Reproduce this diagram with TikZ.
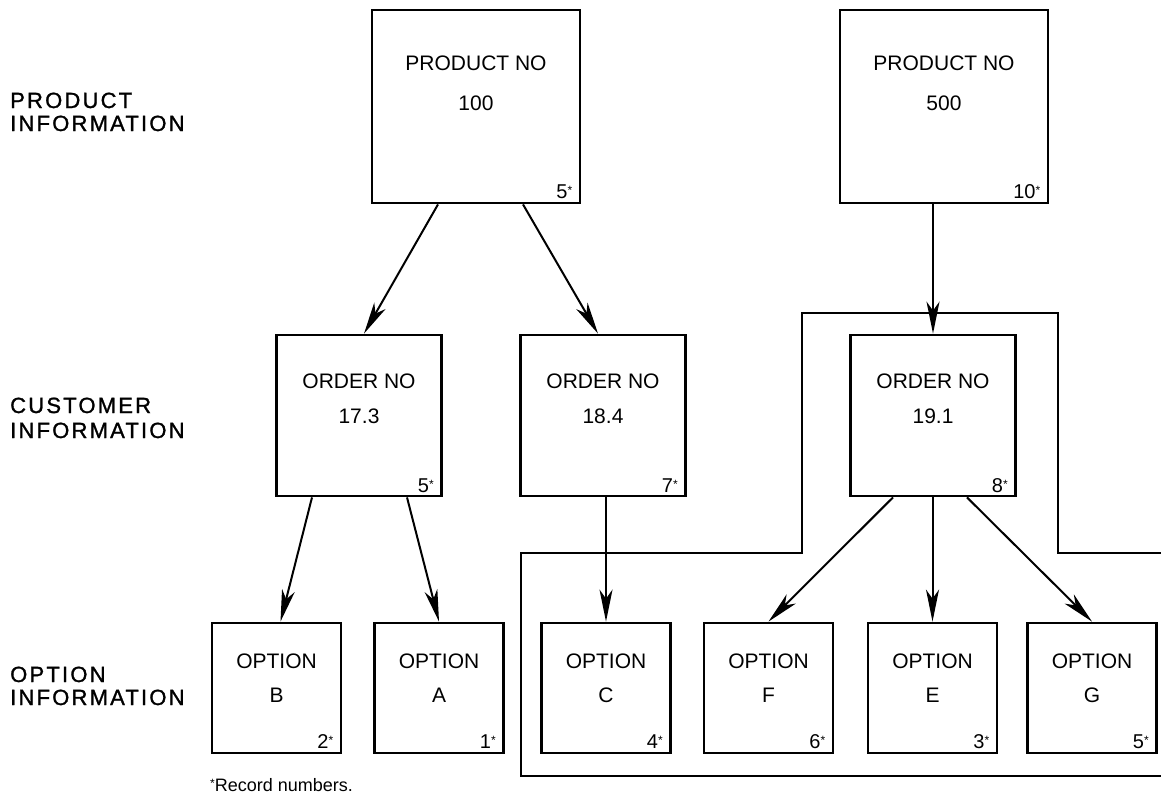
\documentclass[tikz,border=0pt]{standalone}
\usepackage{fontspec}
\setmainfont{Liberation Sans}
\newfontfamily\labfont[LetterSpace=10,FakeBold=1.2]{Liberation Sans}
\usetikzlibrary{arrows.meta,calc}

% small raised asterisk used for record numbers
\newcommand{\recstar}{\raisebox{4pt}{\fontsize{12}{12}\selectfont *}}

\tikzset{
  recbox/.style={draw, rectangle, line width=2.8pt, inner sep=0pt},
  prodbox/.style={recbox, minimum width=208pt, minimum height=193pt},
  ordbox/.style={recbox, minimum width=165pt, minimum height=161pt},
  optbox/.style={recbox, minimum width=129pt, minimum height=130pt},
  boxtext/.style={anchor=base, inner sep=0pt, font=\fontsize{21}{24}\selectfont},
  recno/.style={anchor=base east, inner sep=0pt, font=\fontsize{20}{24}\selectfont},
  levellabel/.style={anchor=base west, inner sep=0pt, font=\labfont\fontsize{22}{24}\selectfont},
  footnotetext/.style={anchor=base west, inner sep=0pt, font=\fontsize{18}{20}\selectfont},
  link/.style={line width=2pt, -{Stealth[length=32pt,width=13pt,inset=9pt]}},
  fence/.style={line width=2pt, line join=miter},
}

\begin{document}
\begin{tikzpicture}[x=1pt, y=-1pt]
  \path[fill=white] (0,0) rectangle (1161,795);
  \useasboundingbox (0,0) rectangle (1161,795);

  % level labels
  \node[levellabel] (lp1) at (10,108) {PRODUCT};
  \node[levellabel] (lp2) at (10,131) {INFORMATION};
  \node[levellabel] (lc1) at (10,413) {CUSTOMER};
  \node[levellabel] (lc2) at (10,438) {INFORMATION};
  \node[levellabel] (lo1) at (10,682) {OPTION};
  \node[levellabel] (lo2) at (10,705) {INFORMATION};

  % product records
  \node[prodbox] (p1) at (476,106.5) {};
  \node[boxtext] (p1a) at (476,70) {PRODUCT NO};
  \node[boxtext] (p1b) at (476,110) {100};
  \node[recno] (p1r) at ($(p1.south east)+(-9,-6)$) {5\recstar};

  \node[prodbox] (p2) at (944,106.5) {};
  \node[boxtext] (p2a) at (944,70) {PRODUCT NO};
  \node[boxtext] (p2b) at (944,110) {500};
  \node[recno] (p2r) at ($(p2.south east)+(-9,-6)$) {10\recstar};

  % customer (order) records
  \node[ordbox] (o1) at (359,415.5) {};
  \node[boxtext] (o1a) at (359,388) {ORDER NO};
  \node[boxtext] (o1b) at (359,423) {17.3};
  \node[recno] (o1r) at ($(o1.south east)+(-9,-5)$) {5\recstar};

  \node[ordbox] (o2) at (603,415.5) {};
  \node[boxtext] (o2a) at (603,388) {ORDER NO};
  \node[boxtext] (o2b) at (603,423) {18.4};
  \node[recno] (o2r) at ($(o2.south east)+(-9,-5)$) {7\recstar};

  \node[ordbox] (o3) at (933,415.5) {};
  \node[boxtext] (o3a) at (933,388) {ORDER NO};
  \node[boxtext] (o3b) at (933,423) {19.1};
  \node[recno] (o3r) at ($(o3.south east)+(-9,-5)$) {8\recstar};

  % option records
  \foreach \nm/\cx/\ltr/\rn in {b/276.5/B/2, a/439/A/1, c/606/C/4, f/768.5/F/6, e/932.5/E/3, g/1092/G/5}{
    \node[optbox] (\nm) at (\cx,688) {};
    \node[boxtext] (\nm t) at (\cx,668) {OPTION};
    \node[boxtext] (\nm l) at (\cx,702) {\ltr};
    \node[recno] (\nm r) at ($(\nm.south east)+(-9,-6)$) {\rn\recstar};
  }

  % outline around the records reached from product 500
  \draw[fence] (1161,553) -- (1058,553) -- (1058,313) -- (802,313) -- (802,553)
               -- (521,553) -- (521,776) -- (1161,776);

  % links between records
  \draw[link] ($(p1.south)+(-38,0)$) -- ($(o1.north)+(5,0)$);
  \draw[link] ($(p1.south)+(47,0)$) -- ($(o2.north)+(-5,0)$);
  \draw[link] (p2.south -| o3.north) -- (o3.north);

  \draw[link] ($(o1.south)+(-47,0)$) -- ($(b.north)+(4,0)$);
  \draw[link] ($(o1.south)+(48,0)$) -- (a.north);
  \draw[link] (c.north |- o2.south) -- (c.north);
  \draw[link] ($(o3.south)+(-40,0)$) -- (f.north);
  \draw[link] (e.north |- o3.south) -- (e.north);
  \draw[link] ($(o3.south)+(34,0)$) -- (g.north);

  % footnote
  \node[footnotetext] (note) at (210,791) {\recstar Record numbers.};
\end{tikzpicture}
\end{document}
